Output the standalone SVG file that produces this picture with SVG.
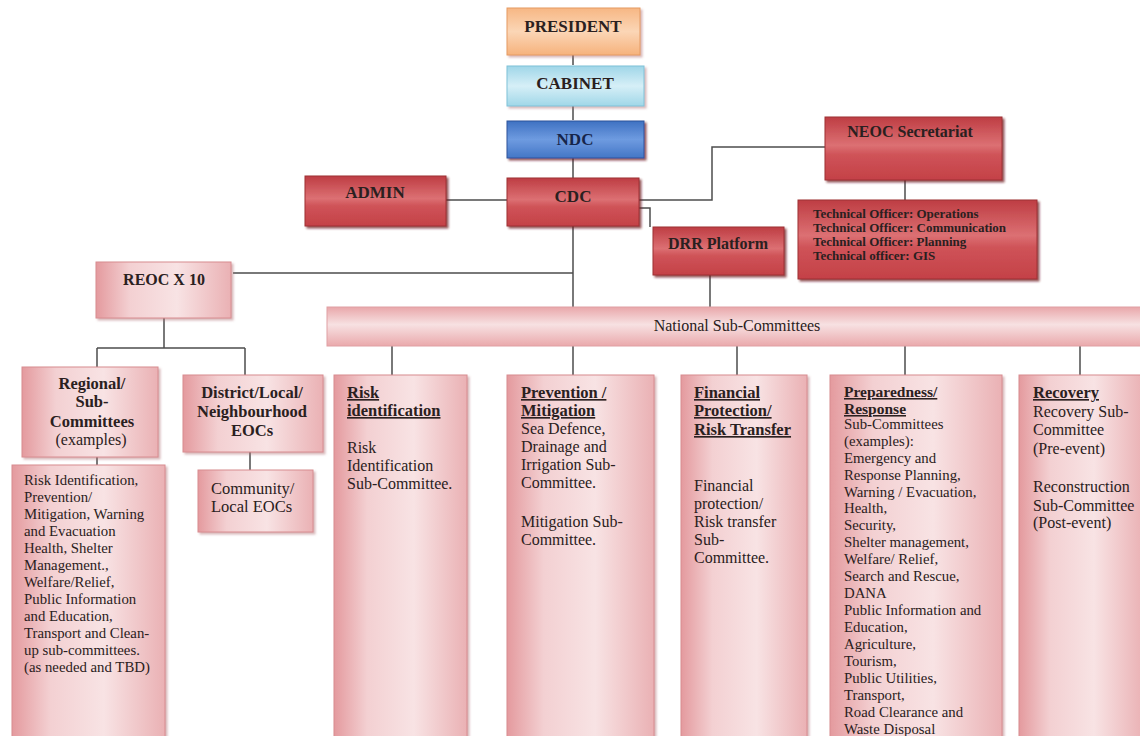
<svg xmlns="http://www.w3.org/2000/svg" width="1140" height="736" viewBox="0 0 1140 736">
<defs>
<linearGradient id="gOrange" x1="0" y1="0" x2="0" y2="1">
<stop offset="0" stop-color="#f7b784"/><stop offset="0.5" stop-color="#fbd6b6"/><stop offset="1" stop-color="#f6b27c"/>
</linearGradient>
<linearGradient id="gCab" x1="0" y1="0" x2="0" y2="1">
<stop offset="0" stop-color="#9fd6e8"/><stop offset="0.5" stop-color="#d6eff7"/><stop offset="1" stop-color="#a0d7e8"/>
</linearGradient>
<linearGradient id="gNdc" x1="0" y1="0" x2="0" y2="1">
<stop offset="0" stop-color="#3f71c2"/><stop offset="0.5" stop-color="#6e9be0"/><stop offset="1" stop-color="#4476c6"/>
</linearGradient>
<linearGradient id="gRed" x1="0" y1="0" x2="0" y2="1">
<stop offset="0" stop-color="#be3d43"/><stop offset="0.45" stop-color="#dc7073"/><stop offset="0.6" stop-color="#cf5358"/><stop offset="1" stop-color="#c44147"/>
</linearGradient>
<linearGradient id="gPink" x1="0" y1="0" x2="1" y2="0">
<stop offset="0" stop-color="#e49a9e"/><stop offset="0.25" stop-color="#f3d0d2"/><stop offset="0.6" stop-color="#f8e3e4"/><stop offset="1" stop-color="#eab1b4"/>
</linearGradient>
<linearGradient id="gPinkH" x1="0" y1="0" x2="0" y2="1">
<stop offset="0" stop-color="#e9a7aa"/><stop offset="0.45" stop-color="#f7e1e2"/><stop offset="1" stop-color="#eaa9ac"/>
</linearGradient>
<filter id="shRed" x="-10%" y="-10%" width="120%" height="130%">
<feDropShadow dx="2" dy="2" stdDeviation="0.8" flood-color="#6e1e22" flood-opacity="0.75"/>
</filter>
<filter id="shLight" x="-10%" y="-10%" width="120%" height="130%">
<feDropShadow dx="2" dy="2" stdDeviation="1" flood-color="#b07075" flood-opacity="0.5"/>
</filter>
<style>
.conn{stroke:#4d4d4d;stroke-width:1.5;fill:none}
.red{fill:url(#gRed);stroke:#9e3034;stroke-width:1;filter:url(#shRed)}
.pink{fill:url(#gPink);stroke:#d88c90;stroke-width:1;filter:url(#shLight)}
.t{font-family:"Liberation Serif","Times New Roman",serif;fill:#2a2020}
.top{font-size:17px;font-weight:bold;text-anchor:middle}
.hd{font-size:16px;font-weight:bold;text-anchor:middle}
.sb{font-size:16.5px;font-weight:bold;text-anchor:middle}
.b{font-size:16px}
.s{font-size:14.8px}
.bb{font-size:16.5px;font-weight:bold;text-decoration:underline}
.tech{font-size:13px;font-weight:bold}
</style>
</defs>
<rect width="1140" height="736" fill="#ffffff"/>

<g id="connectors">
<path class="conn" d="M573 55V65M573 106V120M573 158V178"/>
<path class="conn" d="M446 200H507"/>
<path class="conn" d="M639 200H712V147H825"/>
<path class="conn" d="M639 208H650V227"/>
<path class="conn" d="M905 180V200"/>
<path class="conn" d="M573 226V307"/>
<path class="conn" d="M233 273H573"/>
<path class="conn" d="M710 275V307"/>
<path class="conn" d="M164 318V348M97 348H245M97 348V367M245 348V375"/>
<path class="conn" d="M97 457V465M250 452V470"/>
<path class="conn" d="M392 346V375M573 346V375M737 346V375M905 346V375M1080 346V375"/>
</g>

<g id="president">
<rect x="507" y="8" width="133" height="47" fill="url(#gOrange)" stroke="#e59a63" stroke-width="1" filter="url(#shLight)"/>
<text class="t top" x="573" y="32">PRESIDENT</text>
</g>
<g id="cabinet">
<rect x="507" y="66" width="137" height="40" fill="url(#gCab)" stroke="#7fc2d8" stroke-width="1" filter="url(#shLight)"/>
<text class="t top" x="575" y="89">CABINET</text>
</g>
<g id="ndc">
<rect x="507" y="121" width="137" height="37" fill="url(#gNdc)" stroke="#2c559c" stroke-width="1" filter="url(#shRed)"/>
<text class="t top" x="575" y="145" style="fill:#16254a">NDC</text>
</g>
<g id="cdc">
<rect x="507" y="178" width="132" height="48" class="red"/>
<text class="t top" x="573" y="202">CDC</text>
</g>
<g id="admin">
<rect x="305" y="176" width="141" height="50" class="red"/>
<text class="t top" x="375" y="198">ADMIN</text>
</g>
<g id="neoc">
<rect x="825" y="117" width="177" height="63" class="red"/>
<text class="t hd" x="910" y="137">NEOC Secretariat</text>
</g>
<g id="tech">
<rect x="798" y="200" width="239" height="79" class="red"/>
<text class="t tech" x="813" y="218">Technical Officer: Operations</text>
<text class="t tech" x="813" y="232">Technical Officer: Communication</text>
<text class="t tech" x="813" y="246">Technical Officer: Planning</text>
<text class="t tech" x="813" y="260">Technical officer: GIS</text>
</g>
<g id="drr">
<rect x="653" y="227" width="131" height="48" class="red"/>
<text class="t hd" x="718" y="249">DRR Platform</text>
</g>

<g id="reoc">
<rect x="96" y="262" width="135" height="56" class="pink"/>
<text class="t hd" x="164" y="285">REOC X 10</text>
</g>
<g id="national">
<rect x="327" y="307" width="816" height="39" fill="url(#gPinkH)" stroke="#e0a0a3" stroke-width="1"/>
<text class="t b" x="737" y="331" text-anchor="middle">National Sub-Committees</text>
</g>

<g id="regional">
<rect x="22" y="367" width="136" height="90" class="pink"/>
<text class="t sb" x="92" y="389">Regional/</text>
<text class="t sb" x="92" y="407">Sub-</text>
<text class="t sb" x="92" y="427">Committees</text>
<text class="t b" x="91" y="445" text-anchor="middle">(examples)</text>
</g>
<g id="regional-list">
<rect x="12" y="465" width="153" height="272" class="pink"/>
<text class="t s" x="24" y="485">Risk Identification,</text>
<text class="t s" x="24" y="502">Prevention/</text>
<text class="t s" x="24" y="519">Mitigation, Warning</text>
<text class="t s" x="24" y="536">and Evacuation</text>
<text class="t s" x="24" y="553">Health, Shelter</text>
<text class="t s" x="24" y="570">Management.,</text>
<text class="t s" x="24" y="587">Welfare/Relief,</text>
<text class="t s" x="24" y="604">Public Information</text>
<text class="t s" x="24" y="621">and Education,</text>
<text class="t s" x="24" y="638">Transport and Clean-</text>
<text class="t s" x="24" y="655">up sub-committees.</text>
<text class="t s" x="24" y="672">(as needed and TBD)</text>
</g>
<g id="district">
<rect x="183" y="375" width="140" height="77" class="pink"/>
<text class="t sb" x="252" y="398">District/Local/</text>
<text class="t sb" x="252" y="417">Neighbourhood</text>
<text class="t sb" x="252" y="436">EOCs</text>
</g>
<g id="community">
<rect x="198" y="470" width="115" height="62" class="pink"/>
<text class="t b" x="211" y="494" style="font-size:16.5px">Community/</text>
<text class="t b" x="211" y="512" style="font-size:16.5px">Local EOCs</text>
</g>

<g id="risk-identification">
<rect x="334" y="375" width="133" height="362" class="pink"/>
<text class="t bb" x="347" y="398">Risk</text>
<text class="t bb" x="347" y="416">identification</text>
<text class="t b" x="347" y="453">Risk</text>
<text class="t b" x="347" y="471">Identification</text>
<text class="t b" x="347" y="489">Sub-Committee.</text>
</g>
<g id="prevention">
<rect x="507" y="375" width="147" height="362" class="pink"/>
<text class="t bb" x="521" y="398">Prevention /</text>
<text class="t bb" x="521" y="416">Mitigation</text>
<text class="t b" x="521" y="434">Sea Defence,</text>
<text class="t b" x="521" y="452">Drainage and</text>
<text class="t b" x="521" y="470">Irrigation Sub-</text>
<text class="t b" x="521" y="488">Committee.</text>
<text class="t b" x="521" y="527">Mitigation Sub-</text>
<text class="t b" x="521" y="545">Committee.</text>
</g>
<g id="financial">
<rect x="681" y="375" width="126" height="362" class="pink"/>
<text class="t bb" x="694" y="398">Financial</text>
<text class="t bb" x="694" y="416">Protection/</text>
<text class="t bb" x="694" y="435">Risk Transfer</text>
<text class="t b" x="694" y="491">Financial</text>
<text class="t b" x="694" y="509">protection/</text>
<text class="t b" x="694" y="527">Risk transfer</text>
<text class="t b" x="694" y="545">Sub-</text>
<text class="t b" x="694" y="563">Committee.</text>
</g>
<g id="preparedness">
<rect x="830" y="375" width="172" height="362" class="pink"/>
<text class="t bb" x="844" y="397" style="font-size:15.5px">Preparedness/</text>
<text class="t bb" x="844" y="414" style="font-size:15.5px">Response</text>
<text class="t s" x="844" y="429">Sub-Committees</text>
<text class="t s" x="844" y="446">(examples):</text>
<text class="t s" x="844" y="463">Emergency and</text>
<text class="t s" x="844" y="480">Response Planning,</text>
<text class="t s" x="844" y="497">Warning / Evacuation,</text>
<text class="t s" x="844" y="513">Health,</text>
<text class="t s" x="844" y="530">Security,</text>
<text class="t s" x="844" y="547">Shelter management,</text>
<text class="t s" x="844" y="564">Welfare/ Relief,</text>
<text class="t s" x="844" y="581">Search and Rescue,</text>
<text class="t s" x="844" y="598">DANA</text>
<text class="t s" x="844" y="615">Public Information and</text>
<text class="t s" x="844" y="632">Education,</text>
<text class="t s" x="844" y="649">Agriculture,</text>
<text class="t s" x="844" y="666">Tourism,</text>
<text class="t s" x="844" y="683">Public Utilities,</text>
<text class="t s" x="844" y="700">Transport,</text>
<text class="t s" x="844" y="717">Road Clearance and</text>
<text class="t s" x="844" y="734">Waste Disposal</text>
</g>
<g id="recovery">
<rect x="1019" y="375" width="125" height="362" class="pink"/>
<text class="t bb" x="1033" y="398">Recovery</text>
<text class="t b" x="1033" y="417">Recovery Sub-</text>
<text class="t b" x="1033" y="435">Committee</text>
<text class="t b" x="1033" y="454">(Pre-event)</text>
<text class="t b" x="1033" y="492">Reconstruction</text>
<text class="t b" x="1033" y="511">Sub-Committee</text>
<text class="t b" x="1033" y="528">(Post-event)</text>
</g>
</svg>
